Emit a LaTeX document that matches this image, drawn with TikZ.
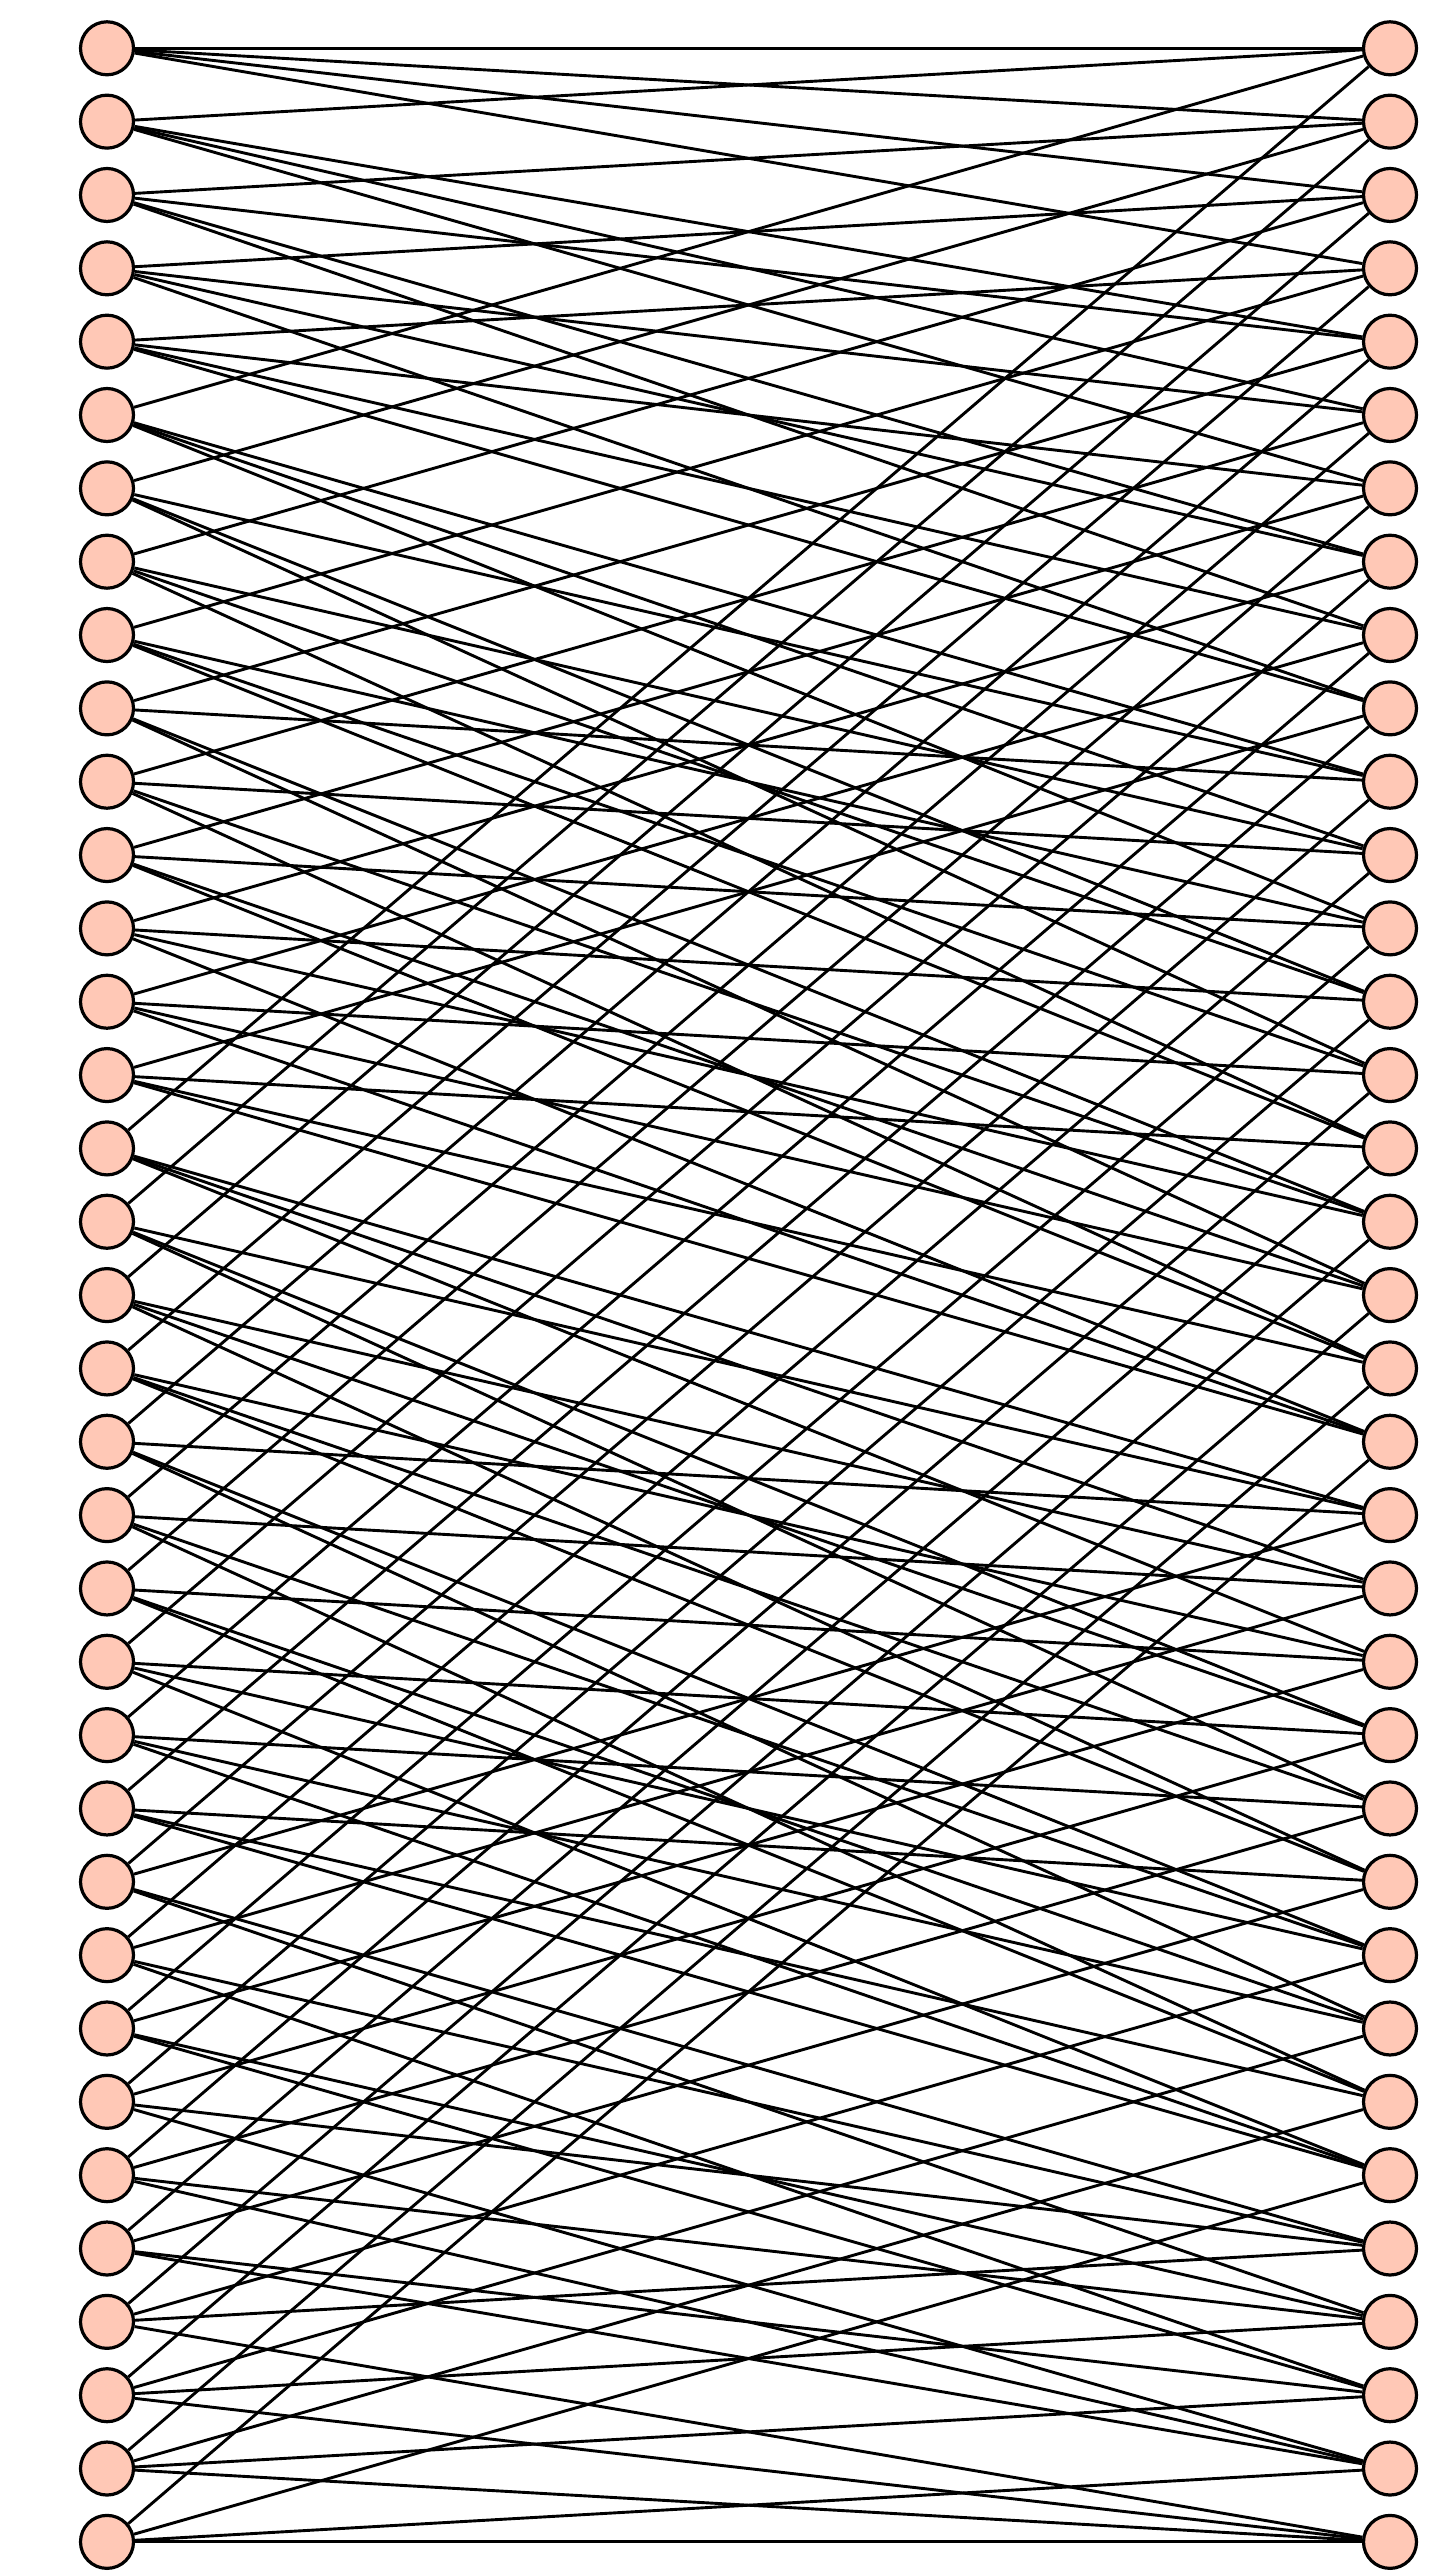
\documentclass[tikz,border=0pt]{standalone}
\definecolor{nodepink}{RGB}{255,200,182}
\begin{document}
\begin{tikzpicture}[x=1pt,y=-1pt,
  vtx/.style={circle, draw=black, line width=3.2pt, fill=nodepink, minimum size=53pt, inner sep=0pt},
  edge/.style={line width=2.9pt, black}]
\useasboundingbox (0,0) rectangle (1439,2575);
\foreach \i in {0,...,34} {
  \node[vtx] (L\i) at (107, {48.3+73.34*\i}) {};
  \node[vtx] (R\i) at (1390, {48.3+73.34*\i}) {};
}
\foreach \r/\a/\b/\c/\d in {
 0/0/1/5/15, 1/0/2/6/16, 2/0/3/7/17, 3/0/4/8/18, 4/1/2/9/19,
 5/1/3/10/20, 6/1/4/11/21, 7/2/3/12/22, 8/2/4/13/23, 9/3/4/14/24,
 10/5/6/9/25, 11/5/7/10/26, 12/5/8/11/27, 13/6/7/12/28, 14/6/8/13/29,
 15/7/8/14/30, 16/9/10/12/31, 17/9/11/13/32, 18/10/11/14/33, 19/12/13/14/34,
 20/15/16/19/25, 21/15/17/20/26, 22/15/18/21/27, 23/16/17/22/28, 24/16/18/23/29,
 25/17/18/24/30, 26/19/20/22/31, 27/19/21/23/32, 28/20/21/24/33, 29/22/23/24/34,
 30/25/26/28/31, 31/25/27/29/32, 32/26/27/30/33, 33/28/29/30/34, 34/31/32/33/34} {
  \draw[edge] (L\a) -- (R\r);
  \draw[edge] (L\b) -- (R\r);
  \draw[edge] (L\c) -- (R\r);
  \draw[edge] (L\d) -- (R\r);
}
\end{tikzpicture}
\end{document}
